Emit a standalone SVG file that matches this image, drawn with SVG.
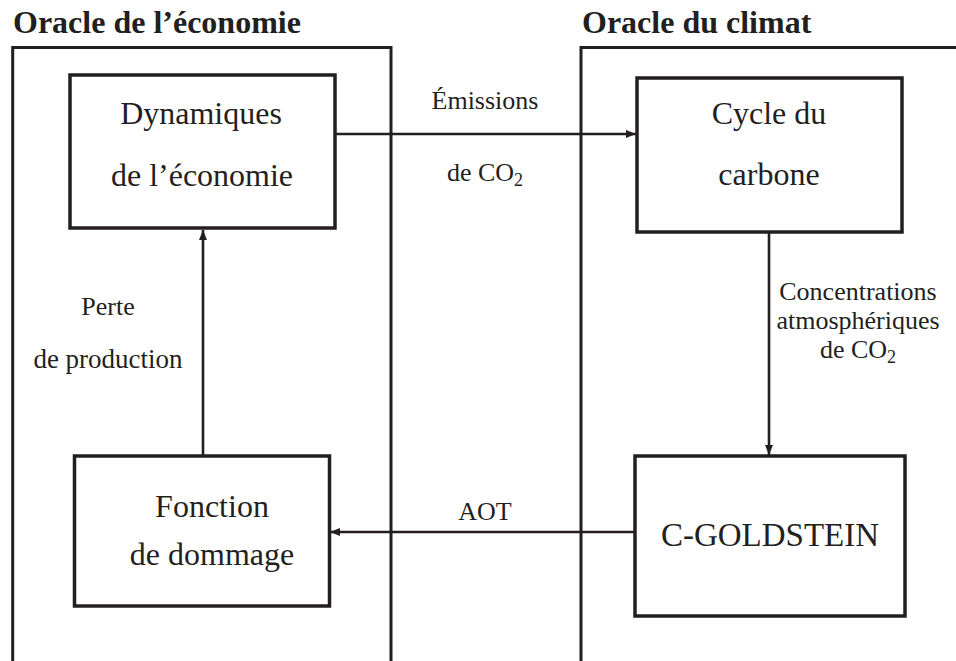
<svg xmlns="http://www.w3.org/2000/svg" width="956" height="661" viewBox="0 0 956 661">
<defs>
<style>
.col{fill:none;stroke:#231f20;stroke-width:3}
.box{fill:#fff;stroke:#231f20;stroke-width:3.5}
.edge{fill:none;stroke:#231f20;stroke-width:2.6}
text{font-family:'Liberation Serif','Times New Roman','DejaVu Serif',serif;fill:#231f20}
.title{font-weight:bold;font-size:32px}
.node{font-size:32px;text-anchor:middle}
.lab{font-size:26px}
.mid{text-anchor:middle}
.sub{font-size:18px}
</style>
<marker id="arr" viewBox="0 0 10 8" refX="10" refY="4" markerWidth="10" markerHeight="8" markerUnits="userSpaceOnUse" orient="auto">
<path d="M0,0 L10,4 L0,8 Z" fill="#231f20"/>
</marker>
</defs>
<rect width="956" height="661" fill="#fff"/>

<g id="oracle-economie">
<path class="col" d="M12.7,662 V47.5 H391 V662"/>
<text class="title" x="13" y="33">Oracle de l’économie</text>
</g>
<g id="oracle-climat">
<path class="col" d="M581,662 V47.5 H960"/>
<text class="title" x="582" y="33">Oracle du climat</text>
</g>

<g id="connectors">
<line class="edge" x1="335" y1="134" x2="636" y2="134" marker-end="url(#arr)"/>
<line class="edge" x1="769" y1="232" x2="769" y2="455" marker-end="url(#arr)"/>
<line class="edge" x1="635" y1="532" x2="330" y2="532" marker-end="url(#arr)"/>
<line class="edge" x1="203" y1="456" x2="203" y2="230" marker-end="url(#arr)"/>
<text class="lab mid" x="485" y="109">Émissions</text>
<text class="lab mid" x="485" y="181">de CO<tspan class="sub" dy="5">2</tspan></text>
<text class="lab mid" x="858" y="300">Concentrations</text>
<text class="lab mid" x="858" y="329">atmosphériques</text>
<text class="lab mid" x="858" y="358">de CO<tspan class="sub" dy="5">2</tspan></text>
<text class="lab mid" x="485" y="520">AOT</text>
<text class="lab mid" x="108" y="315">Perte</text>
<text class="lab mid" x="108" y="368" style="font-size:27px">de production</text>
</g>

<g id="dynamiques">
<rect class="box" x="70" y="75" width="265" height="153"/>
<text class="node" x="201" y="124">Dynamiques</text>
<text class="node" x="202" y="186">de l’économie</text>
</g>
<g id="cycle">
<rect class="box" x="637" y="78" width="265" height="154"/>
<text class="node" x="769" y="124">Cycle du</text>
<text class="node" x="769" y="185">carbone</text>
</g>
<g id="fonction">
<rect class="box" x="74.5" y="456" width="255" height="150"/>
<text class="node" x="212" y="517">Fonction</text>
<text class="node" x="212" y="565">de dommage</text>
</g>
<g id="goldstein">
<rect class="box" x="635" y="456" width="270" height="160"/>
<text class="node" x="770" y="546" style="font-size:33px">C-GOLDSTEIN</text>
</g>
</svg>
